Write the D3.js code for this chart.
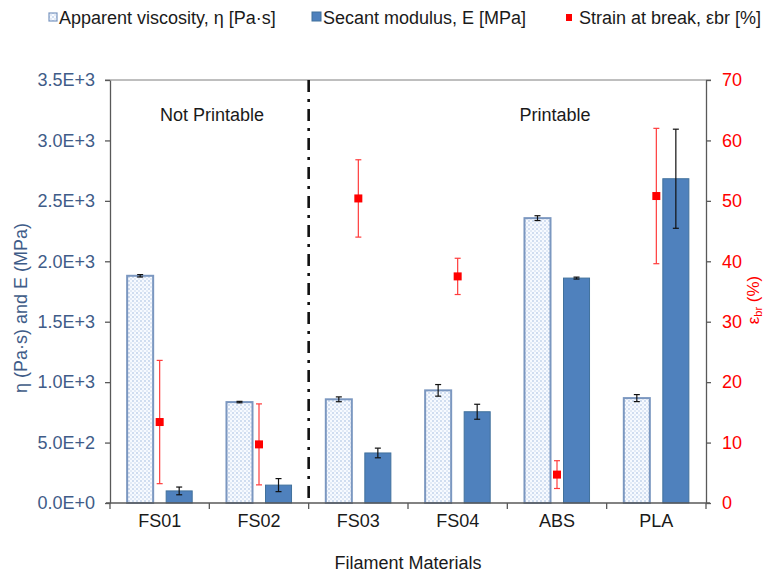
<!DOCTYPE html>
<html>
<head>
<meta charset="utf-8">
<script src="https://cdn.jsdelivr.net/npm/d3@7"></script>
<style>
  html, body { margin: 0; padding: 0; background: #fff; }
  svg { display: block; font-family: "Liberation Sans", Arial, sans-serif; }
</style>
</head>
<body>
<svg id="chart" width="769" height="574"></svg>
<script>
// Filament materials and measured properties
const materials = ["FS01", "FS02", "FS03", "FS04", "ABS", "PLA"];
const viscosity = [1880, 835, 858, 932, 2357, 868];          // Pa·s
const viscosityErr = [10, 6, 20, 48, 20, 29];
const modulus = [100, 148, 414, 755, 1861, 2683];             // MPa
const modulusErr = [32, 54, 40, 62, 8, 410];
const strain = [13.4, 9.7, 50.4, 37.5, 4.7, 50.8];            // %
const strainErr = [10.2, 6.7, 6.4, 3.0, 2.3, 11.2];

const leftTickValues = [0, 500, 1000, 1500, 2000, 2500, 3000, 3500];
const leftTickLabels = ["0.0E+0", "5.0E+2", "1.0E+3", "1.5E+3", "2.0E+3", "2.5E+3", "3.0E+3", "3.5E+3"];
const rightTickValues = [0, 10, 20, 30, 40, 50, 60, 70];

const svg = d3.select("#chart");
const plotLeft = 110, plotRight = 706, plotTop = 80, plotBottom = 503;
const axisColor = "#595959";
const leftColor = "#3f5c88";
const red = "#ff0000";

const x = d3.scaleBand().domain(materials).range([plotLeft, plotRight]).padding(0);
const yL = d3.scaleLinear().domain([0, 3500]).range([plotBottom, plotTop]);
const yR = d3.scaleLinear().domain([0, 70]).range([plotBottom, plotTop]);
const bw = x.bandwidth();
const barW = bw * 0.262;

// dotted fill for the viscosity bars
const defs = svg.append("defs");
const pat = defs.append("pattern").attr("id", "dots")
  .attr("width", 4).attr("height", 4).attr("patternUnits", "userSpaceOnUse");
pat.append("rect").attr("width", 4).attr("height", 4).attr("fill", "#f7faff");
pat.append("rect").attr("x", 0).attr("y", 0).attr("width", 2).attr("height", 2).attr("fill", "#d0ddf0");
pat.append("rect").attr("x", 2).attr("y", 2).attr("width", 2).attr("height", 2).attr("fill", "#e2eaf6");

// frame top line
svg.append("line").attr("x1", plotLeft - 5).attr("x2", plotRight + 5).attr("y1", plotTop).attr("y2", plotTop)
  .attr("stroke", "#7f7f7f").attr("stroke-width", 1);

// left axis
const axL = d3.axisLeft(yL).tickValues(leftTickValues)
  .tickFormat((d, i) => leftTickLabels[i]).tickSize(5).tickSizeOuter(0);
const gL = svg.append("g").attr("transform", `translate(${plotLeft},0)`).call(axL);
gL.select(".domain").attr("stroke", axisColor).attr("stroke-width", 1.3);
gL.selectAll(".tick line").attr("stroke", axisColor).attr("stroke-width", 1.3);
gL.selectAll(".tick text").attr("fill", leftColor).attr("font-size", 18)
  .attr("x", -15).attr("font-family", "Liberation Sans, Arial, sans-serif");

// right axis
const axR = d3.axisRight(yR).tickValues(rightTickValues).tickSize(5).tickSizeOuter(0);
const gR = svg.append("g").attr("transform", `translate(${plotRight},0)`).call(axR);
gR.select(".domain").attr("stroke", axisColor).attr("stroke-width", 1.3);
gR.selectAll(".tick line").attr("stroke", axisColor).attr("stroke-width", 1.3);
gR.selectAll(".tick text").attr("fill", red).attr("font-size", 18)
  .attr("x", 16).attr("font-family", "Liberation Sans, Arial, sans-serif");

// viscosity bars
svg.append("g").selectAll("rect").data(materials).join("rect")
  .attr("x", d => x(d) + bw / 2 - 6.5 - barW)
  .attr("y", (d, i) => yL(viscosity[i]))
  .attr("width", barW)
  .attr("height", (d, i) => plotBottom - yL(viscosity[i]))
  .attr("fill", "url(#dots)")
  .attr("stroke", "#7b97c0").attr("stroke-width", 2);

// modulus bars
svg.append("g").selectAll("rect").data(materials).join("rect")
  .attr("x", d => x(d) + bw / 2 + 6.5)
  .attr("y", (d, i) => yL(modulus[i]))
  .attr("width", barW)
  .attr("height", (d, i) => plotBottom - yL(modulus[i]))
  .attr("fill", "#4f81bd")
  .attr("stroke", "#41719c").attr("stroke-width", 1);

// error bar helper
function errorBars(g, cx, val, err, scale, color, width) {
  g.selectAll(null).data(materials).join("g").each(function (d, i) {
    const gg = d3.select(this);
    const c = cx(d);
    const y1 = scale(val[i] + err[i]), y2 = scale(Math.max(0, val[i] - err[i]));
    gg.append("line").attr("x1", c).attr("x2", c).attr("y1", y1).attr("y2", y2)
      .attr("stroke", color).attr("stroke-width", width);
    [y1, y2].forEach(yy => gg.append("line").attr("x1", c - 3).attr("x2", c + 3)
      .attr("y1", yy).attr("y2", yy).attr("stroke", color).attr("stroke-width", width));
  });
}
const eg = svg.append("g");
errorBars(eg, d => x(d) + bw / 2 - 6.5 - barW / 2, viscosity, viscosityErr, yL, "#111", 1.2);
errorBars(eg, d => x(d) + bw / 2 + 6.5 + barW / 2, modulus, modulusErr, yL, "#111", 1.2);
errorBars(eg, d => x(d) + bw / 2, strain, strainErr, yR, "#ff3b3b", 1.2);

// strain markers
svg.append("g").selectAll("rect").data(materials).join("rect")
  .attr("x", d => x(d) + bw / 2 - 4)
  .attr("y", (d, i) => yR(strain[i]) - 4)
  .attr("width", 8).attr("height", 8).attr("fill", red);

// bottom axis with ticks at category boundaries
const gB = svg.append("g").attr("transform", `translate(0,${plotBottom})`);
gB.append("line").attr("x1", plotLeft - 4).attr("x2", plotRight + 4).attr("y1", 0).attr("y2", 0)
  .attr("stroke", axisColor).attr("stroke-width", 1.3);
gB.selectAll(".bt").data(materials.concat(["end"])).join("line")
  .attr("x1", (d, i) => plotLeft + i * bw).attr("x2", (d, i) => plotLeft + i * bw)
  .attr("y1", 0).attr("y2", 6).attr("stroke", axisColor).attr("stroke-width", 1.3);
gB.selectAll("text").data(materials).join("text")
  .attr("x", d => x(d) + bw / 2).attr("y", 24)
  .attr("text-anchor", "middle").attr("font-size", 18).attr("fill", "#1a1a1a")
  .text(d => d);

// printable / not printable divider
svg.append("line").attr("x1", x("FS03")).attr("x2", x("FS03"))
  .attr("y1", plotTop).attr("y2", plotBottom)
  .attr("stroke", "#111").attr("stroke-width", 2.6)
  .attr("stroke-dasharray", "12,7,3,7");

svg.append("text").attr("x", 212).attr("y", 121).attr("text-anchor", "middle")
  .attr("font-size", 18).attr("fill", "#1a1a1a").text("Not Printable");
svg.append("text").attr("x", 555).attr("y", 121).attr("text-anchor", "middle")
  .attr("font-size", 18).attr("fill", "#1a1a1a").text("Printable");

// axis titles
svg.append("text").attr("transform", "translate(408,569)").attr("text-anchor", "middle")
  .attr("font-size", 18).attr("fill", "#1a1a1a").text("Filament Materials");
svg.append("text").attr("transform", "translate(27,308) rotate(-90)").attr("text-anchor", "middle")
  .attr("font-size", 18).attr("fill", leftColor).text("η (Pa·s) and E (MPa)");
const rt = svg.append("text").attr("transform", "translate(759,300) rotate(-90)")
  .attr("text-anchor", "middle").attr("font-size", 17).attr("fill", red);
rt.append("tspan").text("ε");
rt.append("tspan").attr("font-size", 11).attr("dy", 3).text("br");
rt.append("tspan").attr("dy", -3).text(" (%)");

// legend
const lg = svg.append("g");
lg.append("rect").attr("x", 49).attr("y", 13).attr("width", 8).attr("height", 8)
  .attr("fill", "url(#dots)").attr("stroke", "#7b97c0").attr("stroke-width", 1.2);
lg.append("text").attr("x", 59).attr("y", 24).attr("font-size", 18).attr("fill", "#1a1a1a")
  .text("Apparent viscosity, η [Pa·s]");
lg.append("rect").attr("x", 312).attr("y", 12).attr("width", 9).attr("height", 9)
  .attr("fill", "#4f81bd").attr("stroke", "#41719c").attr("stroke-width", 1);
lg.append("text").attr("x", 323).attr("y", 24).attr("font-size", 18).attr("fill", "#1a1a1a")
  .text("Secant modulus, E [MPa]");
lg.append("rect").attr("x", 566).attr("y", 14).attr("width", 6).attr("height", 7).attr("fill", red);
lg.append("text").attr("x", 579).attr("y", 24).attr("font-size", 18).attr("fill", "#1a1a1a")
  .text("Strain at break, εbr [%]");
</script>
</body>
</html>
